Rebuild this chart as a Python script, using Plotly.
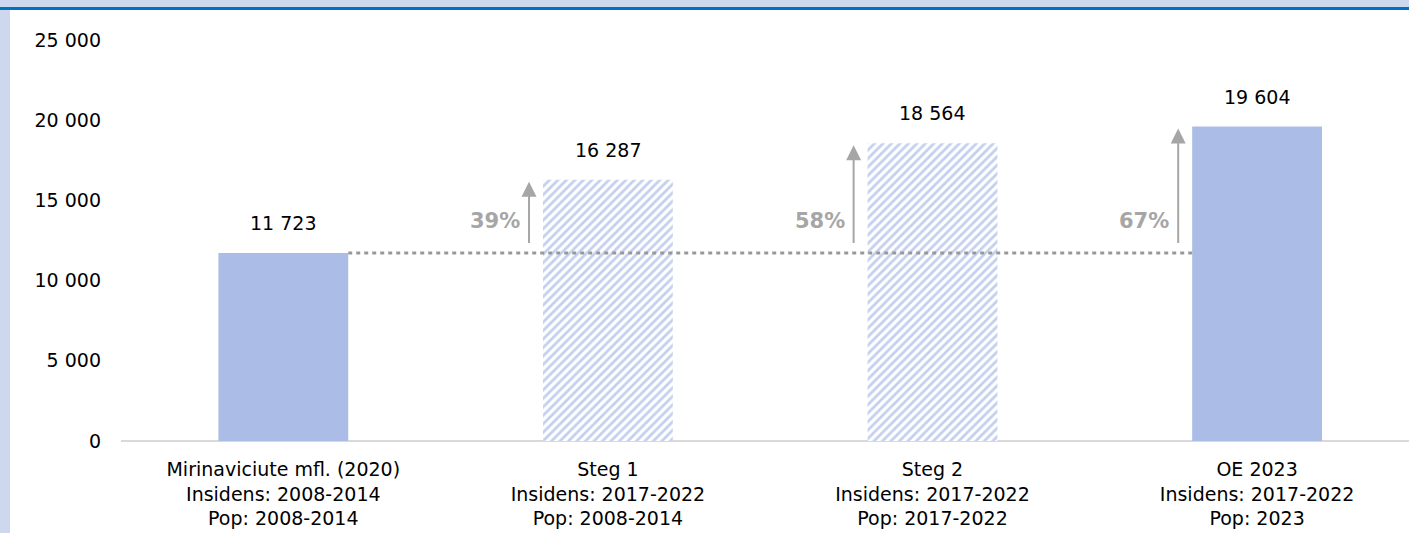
import plotly.graph_objects as go

categories = [
    "Mirinaviciute mfl. (2020)<br>Insidens: 2008-2014<br>Pop: 2008-2014",
    "Steg 1<br>Insidens: 2017-2022<br>Pop: 2008-2014",
    "Steg 2<br>Insidens: 2017-2022<br>Pop: 2017-2022",
    "OE 2023<br>Insidens: 2017-2022<br>Pop: 2023",
]
values = [11723, 16287, 18564, 19604]
value_labels = ["11 723", "16 287", "18 564", "19 604"]
hatched = [False, True, True, False]
pct_labels = ["39%", "58%", "67%"]
y_ticks = [0, 5000, 10000, 15000, 20000, 25000]
y_tick_labels = ["0", "5 000", "10 000", "15 000", "20 000", "25 000"]

BAR = "#ABBDE6"
GRAY = "#A6A6A6"
FONT = "DejaVu Sans"

W, H = 1409, 533
ML, MR, MT, MB = 121, 0, 40, 92
PW, PH = W - ML - MR, H - MT - MB


def px_x(p):
    return (p - ML) / PW


def px_y(p):
    return (H - MB - p) / PH


xs = list(range(len(categories)))
solid_x = [x for x, h in zip(xs, hatched) if not h]
solid_y = [v for v, h in zip(values, hatched) if not h]
hatch_x = [x for x, h in zip(xs, hatched) if h]
hatch_y = [v for v, h in zip(values, hatched) if h]

fig = go.Figure()
fig.add_trace(go.Bar(
    x=solid_x, y=solid_y, width=0.4,
    marker=dict(color=BAR, line=dict(width=0)),
    hoverinfo="skip",
))
fig.add_trace(go.Bar(
    x=hatch_x, y=hatch_y, width=0.4,
    marker=dict(
        color="#C4CFEE", line=dict(width=0),
        pattern=dict(shape="/", fgcolor="#C4CFEE", bgcolor="white",
                     size=6, solidity=0.45, fillmode="replace"),
    ),
    hoverinfo="skip",
))

# dotted reference line at baseline value
fig.add_trace(go.Scatter(
    x=[0.2, 2.8], y=[values[0], values[0]], mode="lines",
    line=dict(color="#999999", width=3, dash="4px,4px"),
    hoverinfo="skip",
))

ann = []
for i, (v, t) in enumerate(zip(values, value_labels)):
    ann.append(dict(x=i, y=v, text=t, showarrow=False, yanchor="middle", yshift=30,
                    font=dict(family=FONT, size=19, color="black")))

for i, p in enumerate(pct_labels, start=1):
    ax_x = i - 0.243
    ann.append(dict(x=ax_x, y=values[i] - 120, ax=ax_x, ay=12250,
                    xref="x", yref="y", axref="x", ayref="y",
                    text="", showarrow=True, arrowhead=2, arrowsize=1.5,
                    arrowwidth=2, arrowcolor=GRAY))
    ann.append(dict(x=ax_x, y=13720, text=p, showarrow=False, xanchor="right",
                    xshift=-7, yanchor="middle",
                    font=dict(family=FONT, size=21, color=GRAY, weight="bold")))

shapes = [
    dict(type="rect", xref="paper", yref="paper", x0=px_x(0), x1=px_x(W),
         y0=px_y(7), y1=px_y(0), fillcolor="#CDD7EE", line=dict(width=0), layer="above"),
    dict(type="rect", xref="paper", yref="paper", x0=px_x(0), x1=px_x(W),
         y0=px_y(10), y1=px_y(7), fillcolor="#0070C0", line=dict(width=0), layer="above"),
    dict(type="rect", xref="paper", yref="paper", x0=px_x(0), x1=px_x(10),
         y0=px_y(H), y1=px_y(10), fillcolor="#CDD7EE", line=dict(width=0), layer="above"),
]

fig.update_layout(
    width=W, height=H,
    margin=dict(l=ML, r=MR, t=MT, b=MB),
    plot_bgcolor="white", paper_bgcolor="white",
    showlegend=False, barmode="overlay",
    annotations=ann, shapes=shapes,
    font=dict(family=FONT, size=19, color="black"),
    xaxis=dict(
        range=[-0.5, 3.468], tickvals=xs, ticktext=categories,
        showgrid=False, zeroline=False, showline=False, ticks="",
        tickfont=dict(family=FONT, size=19, color="black"),
        ticklabelstandoff=15, fixedrange=True,
    ),
    yaxis=dict(
        range=[0, 25000], tickvals=y_ticks, ticktext=y_tick_labels,
        showgrid=False, zeroline=True, zerolinecolor="#D9D9D9", zerolinewidth=2,
        showline=False, ticks="",
        tickfont=dict(family=FONT, size=19, color="black"),
        ticklabelstandoff=19, fixedrange=True,
    ),
)

fig.write_html(
    "out.html",
    config={"displayModeBar": False, "staticPlot": True},
    post_script="document.body.style.margin='0';document.body.style.overflow='hidden';",
)
